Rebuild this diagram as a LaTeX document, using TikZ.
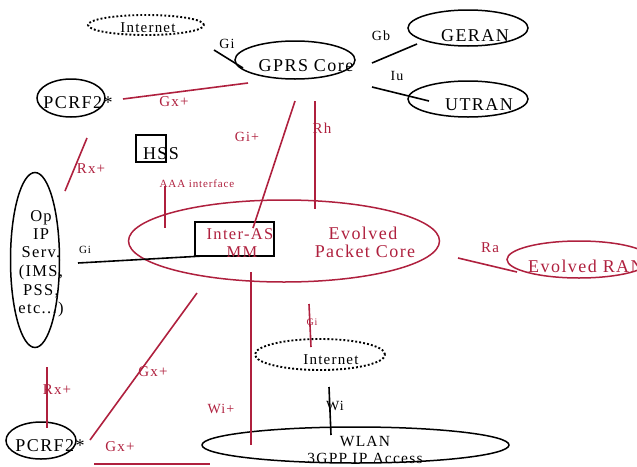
\documentclass[tikz,border=0pt]{standalone}
\usepackage{fontspec}
\setmainfont{Liberation Serif}[LetterSpace=8]
\usetikzlibrary{shapes.geometric,positioning}
\definecolor{epc_red}{RGB}{175,32,62}

\begin{document}
\begin{tikzpicture}[x=1pt,y=-1pt,
      ell/.style={
         ellipse,
         draw=black,
         line width=1.5pt,
         inner sep=0pt},
      ell_dotted/.style={
         ellipse,
         draw=black,
         line width=1.9pt,
         dash pattern=on 1.9pt off 2.1pt,
         inner sep=0pt},
      ell_red/.style={
         ellipse,
         draw=epc_red,
         line width=1.5pt,
         inner sep=0pt},
      mybox/.style={
         draw=black,
         line width=1.5pt,
         inner sep=0pt},
      myline/.style={
        draw=black,
        line width=1.6pt},
      line_red/.style={
        draw=epc_red,
        line width=1.6pt},
      txt/.style={
        inner sep=0pt,
        text height=.66em,
        text depth=0pt,
        font=\fontsize{#1}{#1}\selectfont},
      txt/.default=18,
      txt_red/.style={txt=#1, text=epc_red},
      txt_red/.default=18,
      ]
      \useasboundingbox (0,0) rectangle (637,466);

      % networks
      \node[ell_dotted, minimum width=116pt, minimum height=20pt] (inet1) at (146,25) {};
      \node[ell, minimum width=120pt, minimum height=38pt] (gprs) at (295,60) {};
      \node[ell, minimum width=120pt, minimum height=36pt] (geran) at (468,28) {};
      \node[ell, minimum width=120pt, minimum height=36pt] (utran) at (468,99) {};
      \node[ell, minimum width=68pt, minimum height=38pt] (pcrf1) at (71,98) {};
      \node[ell, minimum width=49pt, minimum height=175pt] (opip) at (35,260) {};
      \node[ell_red, minimum width=311pt, minimum height=82pt] (epc) at (284,241) {};
      \node[ell_red, minimum width=144pt, minimum height=37pt] (eran) at (579,259.5) {};
      \node[ell_dotted, minimum width=130pt, minimum height=31pt] (inet2) at (320,354.5) {};
      \node[ell, minimum width=307pt, minimum height=36pt] (wlan) at (355.5,445) {};
      \node[ell, minimum width=70pt, minimum height=37pt] (pcrf2) at (41,440.5) {};
      % boxes
      \node[mybox, minimum width=30pt, minimum height=27pt] (hss) at (151,148.5) {};
      \node[mybox, minimum width=79pt, minimum height=34pt] (interas) at (234.5,239) {};

      % texts
      \node[txt=15] (inet1_t) at (148,29) {Internet};
      \node[txt] (gprs_t) at (306,68) {GPRS Core};
      \node[txt] (geran_t) at (475,38) {GERAN};
      \node[txt] (utran_t) at (479,107) {UTRAN};
      \node[txt] (pcrf1_t) at (78,105) {PCRF2*};
      \node[txt] (hss_t) at (161,156) {HSS};
      \foreach \t/\y [count=\k] in {Op/218, IP/236, Serv./254, {(IMS,}/273, {PSS,}/292, {etc...)}/310}
        \node[txt=16.5] (op-\k) at (41,\y) {\t};
      \node[txt_red=16.5] (interas_t1) at (240,236) {Inter-AS};
      \node[txt_red=16.5] (interas_t2) at (242,254) {MM};
      \node[txt_red] (epc_t1) at (363,236) {Evolved};
      \node[txt_red] (epc_t2) at (365,254) {Packet Core};
      \node[txt_red, anchor=west] (eran_t) at (528,269) {Evolved RAN};
      \node[txt=15] (inet2_t) at (331,361) {Internet};
      \node[txt=15.5] (wlan_t1) at (365,443) {WLAN};
      \node[txt=15.5] (wlan_t2) at (365,460) {3GPP IP Access};
      \node[txt] (pcrf2_t) at (50,448) {PCRF2*};

      % interface end points
      \coordinate (gi_a) at (214,50);   \coordinate (gi_b) at (243,68);
      \coordinate (gb_a) at (372,63);   \coordinate (gb_b) at (417,44);
      \coordinate (iu_a) at (372,87);   \coordinate (iu_b) at (429,101);
      \coordinate (gio_a) at (78,263);  \coordinate (gio_b) at (203,256);
      \coordinate (wi_a) at (329,387);  \coordinate (wi_b) at (331,435);
      \coordinate (gx_a) at (123,99);   \coordinate (gx_b) at (248,83);
      \coordinate (rx_a) at (87,138);   \coordinate (rx_b) at (65,191);
      \coordinate (aaa_a) at (165,186); \coordinate (aaa_b) at (165,228);
      \coordinate (gip_a) at (295,101); \coordinate (gip_b) at (253,228);
      \coordinate (rh_a) at (315,101);  \coordinate (rh_b) at (315,209);
      \coordinate (ra_a) at (458,258);  \coordinate (ra_b) at (517,272);
      \coordinate (gir_a) at (309,304); \coordinate (gir_b) at (311,347);
      \coordinate (wip_a) at (251,272); \coordinate (wip_b) at (251,445);
      \coordinate (gxd_a) at (197,293); \coordinate (gxd_b) at (90,440);
      \coordinate (rxd_a) at (47,367);  \coordinate (rxd_b) at (47,428);
      \coordinate (gxh_a) at (94,464);  \coordinate (gxh_b) at (210,464);

    \foreach \i/\j/\txt/\l/\s in {% start/end/text/label position/size
      gi_a/gi_b/Gi/{227,45}/14,
      gb_a/gb_b/Gb/{381,37}/14,
      iu_a/iu_b/Iu/{397,77}/14,
      gio_a/gio_b/Gi/{85,250}/11,
      wi_a/wi_b/Wi/{335,407}/14}
      {\draw [myline] (\i) -- (\j);
       \node[txt=\s] (lbl-\i) at (\l) {\txt};}

    \foreach \i/\j/\txt/\l/\s in {% start/end/text/label position/size
      gx_a/gx_b/Gx+/{174,103}/15,
      rx_a/rx_b/Rx+/{91,170}/15,
      aaa_a/aaa_b/AAA interface/{197,184}/11,
      gip_a/gip_b/Gi+/{247,138}/14,
      rh_a/rh_b/Rh/{322,130}/15,
      ra_a/ra_b/Ra/{490,249}/15,
      gir_a/gir_b/Gi/{312,322}/10,
      wip_a/wip_b/Wi+/{221,410}/14,
      gxd_a/gxd_b/Gx+/{153,373}/15,
      rxd_a/rxd_b/Rx+/{57,391}/15,
      gxh_a/gxh_b/Gx+/{120,448}/15}
      {\draw [line_red] (\i) -- (\j);
       \node[txt_red=\s] (lbl-\i) at (\l) {\txt};}
\end{tikzpicture}
\end{document}
